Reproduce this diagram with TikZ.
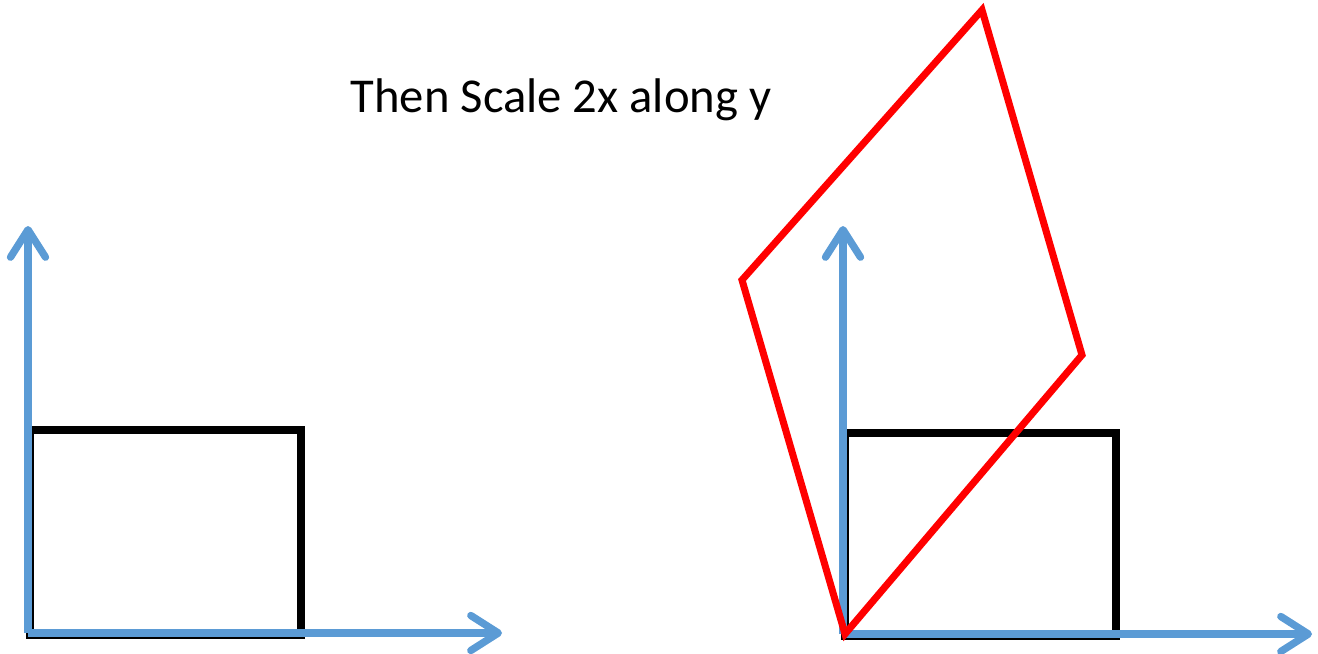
\documentclass[tikz,border=0pt]{standalone}
\usepackage{fontspec}
\setmainfont{Carlito}
\usepackage{xcolor}
\usetikzlibrary{arrows.meta}
\definecolor{axisblue}{RGB}{91,155,213}

\begin{document}
\begin{tikzpicture}[x=0.02cm,y=-0.02cm,
    axis/.style={axisblue,line width=4.2pt,
      -{Straight Barb[length=0.55cm,width=0.7cm,round]}},
    box/.style={black,line width=4.2pt},
    redquad/.style={red,line width=4pt,line join=miter}]
    \useasboundingbox (0,0) rectangle (1318,653);
    % title
    \node[font=\fontsize{27.7}{33}\selectfont] (title) at (561,100) {Then Scale 2x along y};
    % left: original frame
    \draw[box] (30,635) rectangle (301,430);
    \draw[axis] (28,633) -- (28,226);
    \draw[axis] (28,633) -- (502,633);
    % right: frame after shear, then scale
    \draw[box] (845,636) rectangle (1116,433);
    \draw[axis] (843,634) -- (843,226);
    \draw[axis] (843,634) -- (1312,634);
    \draw[redquad] (845,634) -- (742,280) -- (982,10) -- (1082,355) -- cycle;
  \end{tikzpicture}
\end{document}
